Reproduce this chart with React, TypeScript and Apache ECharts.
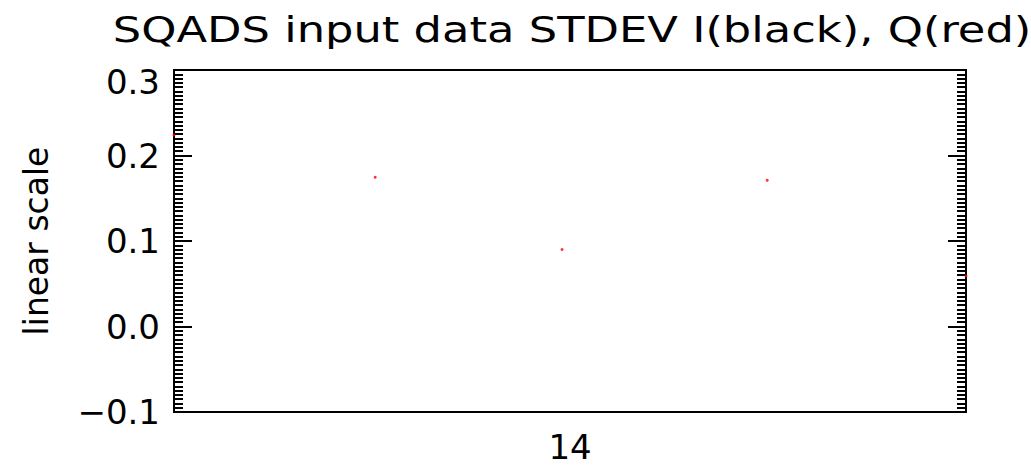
import React, { useEffect, useRef } from "react";
import * as echarts from "echarts";

const titleText = "SQADS input data STDEV I(black), Q(red)";
const yAxisName = "linear scale";
const xTickLabels = ["14"];
const qX = [13.5, 13.754, 13.99, 14.249, 14.5];
const qY = [0.224, 0.1745, 0.09, 0.171, 0.059];
const iX: number[] = [];
const iY: number[] = [];

const FONT = "DejaVu Sans";

export default function App() {
  const ref = useRef<HTMLDivElement>(null);
  useEffect(() => {
    if (!ref.current) return;
    const chart = echarts.init(ref.current, undefined, { renderer: "svg" });
    const yBase = {
      type: "value" as const,
      min: -0.1,
      max: 0.3,
      splitLine: { show: false },
      minorTick: { show: false },
    };
    const majorAxis = (pos: "left" | "right") => ({
      ...yBase,
      position: pos,
      interval: 0.1,
      axisLine: { show: true, onZero: false, lineStyle: { color: "#000", width: 2 } },
      axisTick: { show: true, inside: true, length: 18, lineStyle: { color: "#000", width: 2 } },
      axisLabel: { show: false },
    });
    const minorAxis = (pos: "left" | "right") => ({
      ...yBase,
      position: pos,
      interval: 0.005,
      axisLine: { show: false, onZero: false },
      axisTick: { show: true, inside: true, length: 9, lineStyle: { color: "#000", width: 2 } },
      axisLabel: { show: false },
    });
    chart.setOption({
      animation: false,
      backgroundColor: "#fff",
      graphic: [
        {
          type: "text",
          x: 572,
          y: 12,
          scaleX: 1.28,
          style: {
            text: titleText,
            fontFamily: FONT,
            fontSize: 35,
            fill: "#000",
            textAlign: "center",
            textVerticalAlign: "top",
          },
        },
      ],
      grid: { left: 174, right: 65, top: 70, bottom: 55, show: true, borderColor: "#000", borderWidth: 2 },
      xAxis: {
        type: "value",
        min: 13.5,
        max: 14.5,
        interval: 0.5,
        splitLine: { show: false },
        axisLine: { show: true, onZero: false, lineStyle: { color: "#000", width: 2 } },
        axisTick: { show: false },
        axisLabel: {
          margin: 18,
          fontFamily: FONT,
          fontSize: 34,
          lineHeight: 34,
          color: "#000",
          formatter: (v: number) => (xTickLabels.includes(String(v)) ? String(v) : ""),
        },
      },
      yAxis: [
        {
          ...majorAxis("left"),
          name: yAxisName,
          nameLocation: "middle",
          nameGap: 121,
          nameTextStyle: { fontFamily: FONT, fontSize: 33, color: "#000" },
          axisLabel: {
            show: true,
            margin: 14,
            fontFamily: FONT,
            fontSize: 34,
            color: "#000",
            formatter: (v: number) => {
              const s = (Math.round(v * 10) / 10).toFixed(1).replace("-", "\u2212");
              return Math.abs(v - 0.3) < 1e-9 ? "{top|" + s + "}" : s;
            },
            rich: { top: { fontFamily: FONT, fontSize: 34, color: "#000", padding: [23, 0, 0, 0] } },
          },
        },
        minorAxis("left"),
        majorAxis("right"),
        minorAxis("right"),
      ],
      series: [
        {
          name: "Q",
          type: "scatter",
          yAxisIndex: 0,
          data: qX.map((x, i) => [x, qY[i]]),
          symbol: "circle",
          symbolSize: 3,
          itemStyle: { color: "#ff0000" },
        },
        {
          name: "I",
          type: "scatter",
          yAxisIndex: 0,
          data: iX.map((x, i) => [x, iY[i]]),
          symbol: "circle",
          symbolSize: 3,
          itemStyle: { color: "#000000" },
        },
      ],
    });
    return () => chart.dispose();
  }, []);
  return (
    <div
      ref={ref}
      style={{ position: "fixed", left: 0, top: 0, width: 1031, height: 467, background: "#fff" }}
    />
  );
}
